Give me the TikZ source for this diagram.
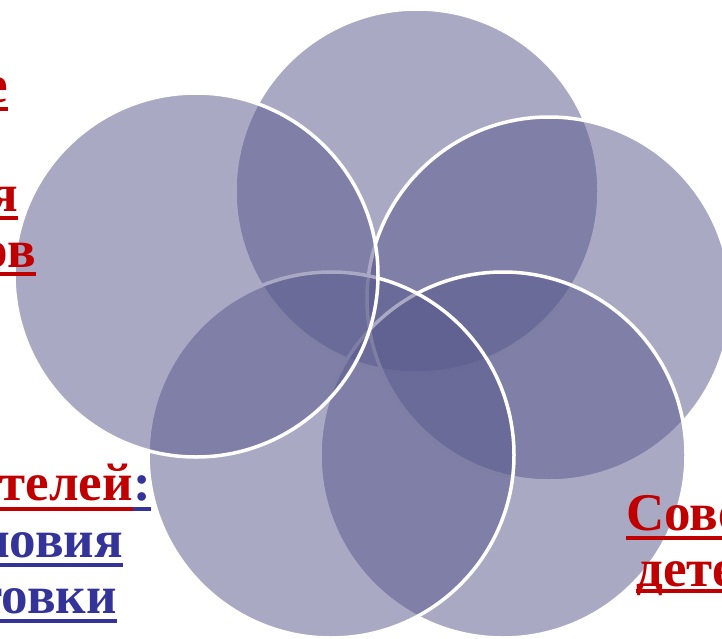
\documentclass[tikz,border=0pt]{standalone}
\usepackage{fontspec}
\setmainfont{Liberation Serif}
\definecolor{petalcol}{RGB}{87,87,139}
\definecolor{txtred}{RGB}{192,0,0}
\definecolor{txtblue}{RGB}{51,51,153}
\tikzset{
  petal/.style={fill=petalcol, fill opacity=0.51, draw=white, line width=3.5pt},
  txtline/.style={font=\fontsize{53}{58}\selectfont\bfseries, inner sep=0pt},
  uline/.style={line width=4pt},
}
\begin{document}
\begin{tikzpicture}[x=1pt,y=-1pt]
  \useasboundingbox (0,0) rectangle (722,639);
  \clip (0,0) rectangle (722,639);
  % circle centres
  \coordinate (T) at (417,191);
  \coordinate (R) at (549,299);
  \coordinate (BR) at (503,455);
  \coordinate (BL) at (331,455);
  \coordinate (L) at (196,275);
  % circles, back to front
  \path[petal] (T) circle[radius=182pt];
  \path[petal] (R) circle[radius=182pt];
  \path[petal] (BR) circle[radius=183pt];
  \path[petal] (BL) circle[radius=183pt];
  \path[petal] (L) circle[radius=182pt];
  % text on the left, cut by the edge
  \node[txtline,txtred,anchor=base east] (tl1) at (8,103) {е};
  \node[txtline,txtred,anchor=base east] (tl2) at (18,211) {я};
  \node[txtline,txtred,anchor=base east] (tl3) at (36,267) {ов};
  \draw[uline,txtred] ([yshift=-6pt]tl1.base west) -- ([yshift=-6pt]tl1.base east);
  \draw[uline,txtred] ([yshift=-7pt]tl2.base west) -- ([yshift=-7pt]tl2.base east);
  \draw[uline,txtred] ([yshift=-7pt]tl3.base west) -- ([yshift=-7pt]tl3.base east);
  % text bottom left
  \node[txtline,txtred,anchor=base east] (bl1) at (133,500) {телей};
  \node[txtline,txtblue,anchor=base west] (bl1c) at (bl1.base east) {:};
  \node[txtline,txtblue,anchor=base east] (bl2) at (123,557) {ловия};
  \node[txtline,txtblue,anchor=base east] (bl3) at (117,613) {товки};
  \draw[uline,txtred] ([yshift=-9pt]bl1.base west) -- ([yshift=-9pt]bl1.base east);
  \draw[uline,txtblue] ([yshift=-9pt]bl1c.base west) -- ([yshift=-9pt]bl1c.base east);
  \draw[uline,txtblue] ([yshift=-8pt]bl2.base west) -- ([yshift=-8pt]bl2.base east);
  \draw[uline,txtblue] ([yshift=-8pt]bl3.base west) -- ([yshift=-8pt]bl3.base east);
  % text bottom right
  \node[txtline,txtred,anchor=base west] (r1) at (626,530) {Сове};
  \node[txtline,txtred,anchor=base west] (r2) at (636,586) {дете};
  \draw[uline,txtred] ([yshift=-8pt]r1.base west) -- ([yshift=-8pt]r1.base east);
  \draw[uline,txtred] ([yshift=-5pt]r2.base west) -- ([yshift=-5pt]r2.base east);
\end{tikzpicture}
\end{document}
